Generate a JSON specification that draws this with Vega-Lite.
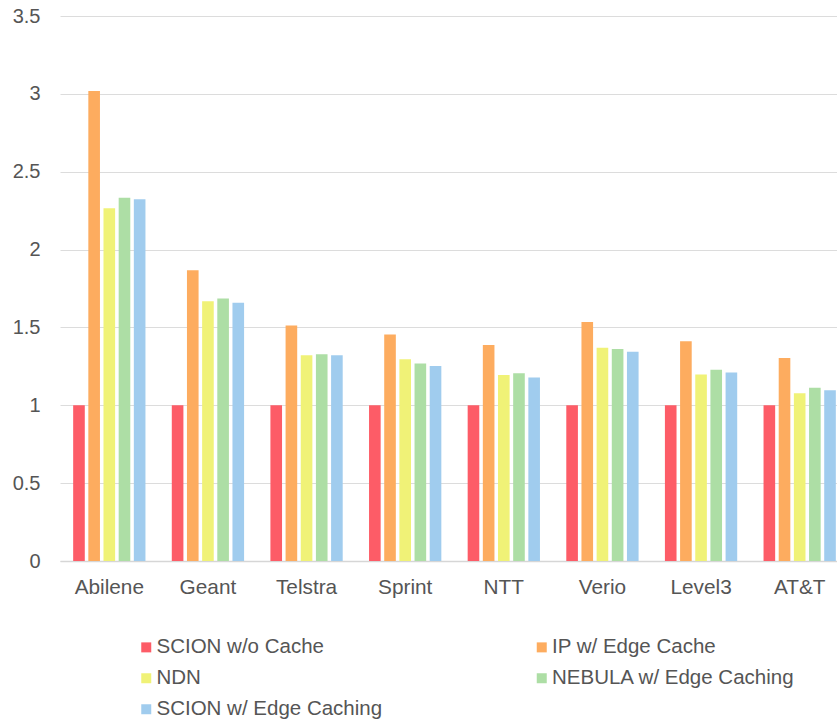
{
  "$schema": "https://vega.github.io/schema/vega-lite/v6.json",
  "autosize": {"type": "none"},
  "padding": {"left": 60, "top": 16, "right": 0, "bottom": 159},
  "width": 777,
  "height": 545,
  "background": "white",
  "config": {
    "view": {"stroke": null},
    "font": "Liberation Sans"
  },
  "data": {
    "values": [
      {"net": "Abilene", "s": "SCION w/o Cache", "v": 1},
      {"net": "Abilene", "s": "IP w/ Edge Cache", "v": 3.019},
      {"net": "Abilene", "s": "NDN", "v": 2.265},
      {"net": "Abilene", "s": "NEBULA w/ Edge Caching", "v": 2.332},
      {"net": "Abilene", "s": "SCION w/ Edge Caching", "v": 2.323},
      {"net": "Geant", "s": "SCION w/o Cache", "v": 1},
      {"net": "Geant", "s": "IP w/ Edge Cache", "v": 1.867},
      {"net": "Geant", "s": "NDN", "v": 1.668},
      {"net": "Geant", "s": "NEBULA w/ Edge Caching", "v": 1.685},
      {"net": "Geant", "s": "SCION w/ Edge Caching", "v": 1.659},
      {"net": "Telstra", "s": "SCION w/o Cache", "v": 1},
      {"net": "Telstra", "s": "IP w/ Edge Cache", "v": 1.512},
      {"net": "Telstra", "s": "NDN", "v": 1.321},
      {"net": "Telstra", "s": "NEBULA w/ Edge Caching", "v": 1.327},
      {"net": "Telstra", "s": "SCION w/ Edge Caching", "v": 1.321},
      {"net": "Sprint", "s": "SCION w/o Cache", "v": 1},
      {"net": "Sprint", "s": "IP w/ Edge Cache", "v": 1.454},
      {"net": "Sprint", "s": "NDN", "v": 1.295},
      {"net": "Sprint", "s": "NEBULA w/ Edge Caching", "v": 1.269},
      {"net": "Sprint", "s": "SCION w/ Edge Caching", "v": 1.252},
      {"net": "NTT", "s": "SCION w/o Cache", "v": 1},
      {"net": "NTT", "s": "IP w/ Edge Cache", "v": 1.387},
      {"net": "NTT", "s": "NDN", "v": 1.194},
      {"net": "NTT", "s": "NEBULA w/ Edge Caching", "v": 1.205},
      {"net": "NTT", "s": "SCION w/ Edge Caching", "v": 1.179},
      {"net": "Verio", "s": "SCION w/o Cache", "v": 1},
      {"net": "Verio", "s": "IP w/ Edge Cache", "v": 1.535},
      {"net": "Verio", "s": "NDN", "v": 1.37},
      {"net": "Verio", "s": "NEBULA w/ Edge Caching", "v": 1.361},
      {"net": "Verio", "s": "SCION w/ Edge Caching", "v": 1.344},
      {"net": "Level3", "s": "SCION w/o Cache", "v": 1},
      {"net": "Level3", "s": "IP w/ Edge Cache", "v": 1.411},
      {"net": "Level3", "s": "NDN", "v": 1.197},
      {"net": "Level3", "s": "NEBULA w/ Edge Caching", "v": 1.229},
      {"net": "Level3", "s": "SCION w/ Edge Caching", "v": 1.211},
      {"net": "AT&T", "s": "SCION w/o Cache", "v": 1},
      {"net": "AT&T", "s": "IP w/ Edge Cache", "v": 1.303},
      {"net": "AT&T", "s": "NDN", "v": 1.078},
      {"net": "AT&T", "s": "NEBULA w/ Edge Caching", "v": 1.113},
      {"net": "AT&T", "s": "SCION w/ Edge Caching", "v": 1.096}
    ]
  },
  "mark": {"type": "bar", "clip": true},
  "encoding": {
    "x": {
      "field": "net",
      "type": "nominal",
      "sort": null,
      "scale": {"range": [0, 789], "paddingInner": 0.267, "paddingOuter": 0.1335},
      "axis": {
        "title": null,
        "labelAngle": 0,
        "labelFontSize": 20.8,
        "labelColor": "#555555",
        "labelPadding": 16,
        "ticks": false,
        "tickSize": 0,
        "domainColor": "#d6d6d6",
        "domainWidth": 1.5,
        "grid": false
      }
    },
    "xOffset": {
      "field": "s",
      "type": "nominal",
      "sort": ["SCION w/o Cache", "IP w/ Edge Cache", "NDN", "NEBULA w/ Edge Caching", "SCION w/ Edge Caching"],
      "scale": {"paddingInner": 0.234, "paddingOuter": 0}
    },
    "y": {
      "field": "v",
      "type": "quantitative",
      "scale": {"domain": [0, 3.5], "nice": false},
      "axis": {
        "title": null,
        "values": [0, 0.5, 1, 1.5, 2, 2.5, 3, 3.5],
        "format": "~g",
        "labelFontSize": 20,
        "labelColor": "#555555",
        "labelPadding": 20,
        "ticks": false,
        "tickSize": 0,
        "domain": false,
        "gridColor": "#dcdcdc",
        "gridWidth": 1
      }
    },
    "color": {
      "field": "s",
      "type": "nominal",
      "sort": ["SCION w/o Cache", "IP w/ Edge Cache", "NDN", "NEBULA w/ Edge Caching", "SCION w/ Edge Caching"],
      "scale": {
        "domain": ["SCION w/o Cache", "IP w/ Edge Cache", "NDN", "NEBULA w/ Edge Caching", "SCION w/ Edge Caching"],
        "range": ["#fd5c67", "#fdac5f", "#f0f277", "#addea5", "#a0ccee"]
      },
      "legend": {
        "title": null,
        "orient": "none",
        "legendX": 76,
        "legendY": 621,
        "columns": 2,
        "direction": "horizontal",
        "symbolType": "square",
        "symbolSize": 100,
        "symbolStrokeWidth": 0,
        "labelFontSize": 20.5,
        "labelColor": "#555555",
        "labelOffset": 0,
        "labelLimit": 400,
        "columnPadding": 148.5,
        "rowPadding": 10
      }
    }
  }
}
